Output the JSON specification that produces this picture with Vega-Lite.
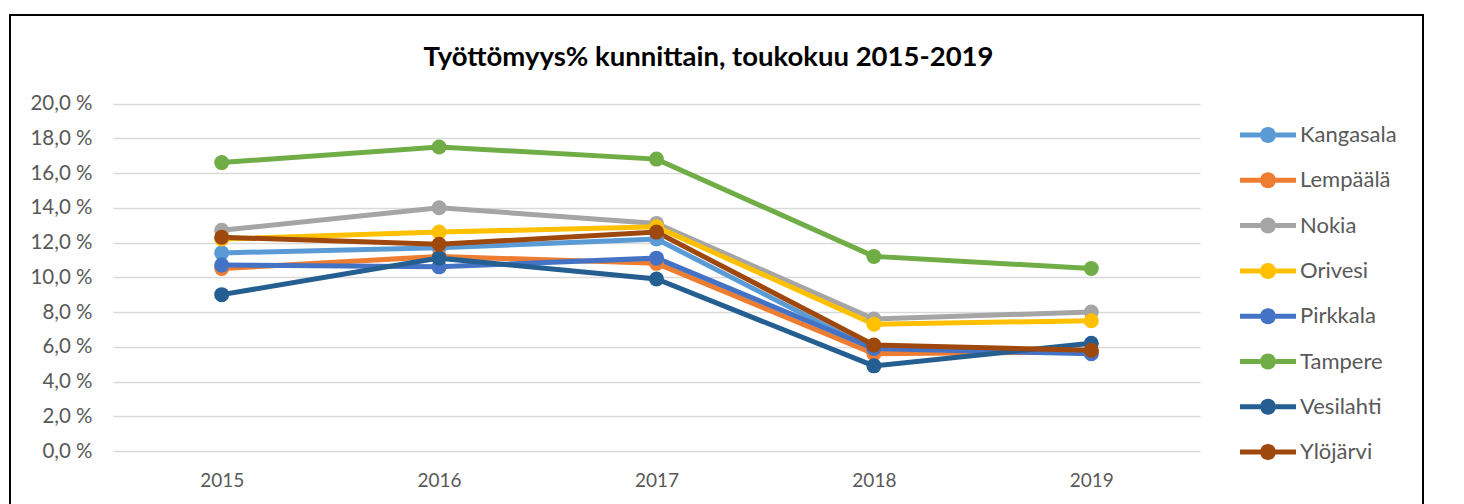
{
  "$schema": "https://vega.github.io/schema/vega-lite/v6.json",
  "width": 1413,
  "height": 489,
  "autosize": {"type": "none"},
  "padding": {"left": 10, "top": 15, "right": 41, "bottom": 0},
  "background": "white",
  "title": {
    "text": "Työttömyys% kunnittain, toukokuu 2015-2019",
    "font": "Lato",
    "fontSize": 27.5,
    "fontWeight": "bold",
    "color": "#000000",
    "anchor": "middle",
    "frame": "group",
    "dx": -8,
    "offset": -56
  },
  "data": {
    "values": [
      {"kunta": "Kangasala", "year": "2015", "value": 11.4},
      {"kunta": "Kangasala", "year": "2016", "value": 11.7},
      {"kunta": "Kangasala", "year": "2017", "value": 12.2},
      {"kunta": "Kangasala", "year": "2018", "value": 5.8},
      {"kunta": "Kangasala", "year": "2019", "value": 5.7},
      {"kunta": "Lempäälä", "year": "2015", "value": 10.5},
      {"kunta": "Lempäälä", "year": "2016", "value": 11.2},
      {"kunta": "Lempäälä", "year": "2017", "value": 10.8},
      {"kunta": "Lempäälä", "year": "2018", "value": 5.6},
      {"kunta": "Lempäälä", "year": "2019", "value": 5.7},
      {"kunta": "Nokia", "year": "2015", "value": 12.7},
      {"kunta": "Nokia", "year": "2016", "value": 14.0},
      {"kunta": "Nokia", "year": "2017", "value": 13.1},
      {"kunta": "Nokia", "year": "2018", "value": 7.6},
      {"kunta": "Nokia", "year": "2019", "value": 8.0},
      {"kunta": "Orivesi", "year": "2015", "value": 12.2},
      {"kunta": "Orivesi", "year": "2016", "value": 12.6},
      {"kunta": "Orivesi", "year": "2017", "value": 12.9},
      {"kunta": "Orivesi", "year": "2018", "value": 7.3},
      {"kunta": "Orivesi", "year": "2019", "value": 7.5},
      {"kunta": "Pirkkala", "year": "2015", "value": 10.7},
      {"kunta": "Pirkkala", "year": "2016", "value": 10.6},
      {"kunta": "Pirkkala", "year": "2017", "value": 11.1},
      {"kunta": "Pirkkala", "year": "2018", "value": 5.9},
      {"kunta": "Pirkkala", "year": "2019", "value": 5.6},
      {"kunta": "Tampere", "year": "2015", "value": 16.6},
      {"kunta": "Tampere", "year": "2016", "value": 17.5},
      {"kunta": "Tampere", "year": "2017", "value": 16.8},
      {"kunta": "Tampere", "year": "2018", "value": 11.2},
      {"kunta": "Tampere", "year": "2019", "value": 10.5},
      {"kunta": "Vesilahti", "year": "2015", "value": 9.0},
      {"kunta": "Vesilahti", "year": "2016", "value": 11.1},
      {"kunta": "Vesilahti", "year": "2017", "value": 9.9},
      {"kunta": "Vesilahti", "year": "2018", "value": 4.9},
      {"kunta": "Vesilahti", "year": "2019", "value": 6.2},
      {"kunta": "Ylöjärvi", "year": "2015", "value": 12.3},
      {"kunta": "Ylöjärvi", "year": "2016", "value": 11.9},
      {"kunta": "Ylöjärvi", "year": "2017", "value": 12.6},
      {"kunta": "Ylöjärvi", "year": "2018", "value": 6.1},
      {"kunta": "Ylöjärvi", "year": "2019", "value": 5.8}
    ]
  },
  "mark": {
    "type": "line",
    "strokeWidth": 5,
    "point": {"filled": true, "size": 225, "opacity": 1}
  },
  "encoding": {
    "x": {
      "field": "year",
      "type": "ordinal",
      "scale": {"type": "point", "padding": 0.5, "range": [103, 1190]},
      "axis": {
        "title": null,
        "labelAngle": 0,
        "ticks": false,
        "domain": false,
        "grid": false,
        "offset": -53,
        "labelFont": "Lato",
        "labelFontSize": 19,
        "labelColor": "#595959",
        "labelPadding": 20
      }
    },
    "y": {
      "field": "value",
      "type": "quantitative",
      "scale": {"domain": [0, 20], "nice": false, "range": [436, 88.5]},
      "axis": {
        "title": null,
        "values": [0, 2, 4, 6, 8, 10, 12, 14, 16, 18, 20],
        "labelExpr": "replace(format(datum.value, '.1f'), '.', ',') + ' %'",
        "ticks": false,
        "domain": false,
        "grid": true,
        "offset": -103,
        "gridColor": "#d9d9d9",
        "gridWidth": 1.5,
        "labelFont": "Lato",
        "labelFontSize": 20.5,
        "labelColor": "#595959",
        "labelPadding": 21
      }
    },
    "color": {
      "field": "kunta",
      "type": "nominal",
      "scale": {
        "domain": ["Kangasala", "Lempäälä", "Nokia", "Orivesi", "Pirkkala", "Tampere", "Vesilahti", "Ylöjärvi"],
        "range": ["#5B9BD5", "#ED7D31", "#A5A5A5", "#FFC000", "#4472C4", "#70AD47", "#255E91", "#9E480E"]
      },
      "legend": {
        "orient": "none",
        "legendX": 1230,
        "legendY": 110,
        "title": null,
        "symbolType": "M-1,-0.09L-0.28,-0.09L-0.28,0.09L-1,0.09Z M0.28,-0.09L1,-0.09L1,0.09L0.28,0.09Z M0.2857,0A0.2857,0.2857 0 1,1 -0.2857,0A0.2857,0.2857 0 1,1 0.2857,0Z",
        "symbolSize": 3136,
        "symbolStrokeWidth": 0,
        "labelFont": "Lato",
        "labelFontSize": 22,
        "labelColor": "#595959",
        "labelOffset": 4,
        "clipHeight": 20,
        "rowPadding": 23.3,
        "encode": {
          "symbols": {
            "update": {
              "fill": {"scale": "color", "field": "value"},
              "fillOpacity": {"value": 1},
              "opacity": {"value": 1},
              "strokeWidth": {"value": 0}
            }
          }
        }
      }
    }
  },
  "config": {
    "view": {
      "stroke": "#000000",
      "strokeWidth": 2,
      "strokeDash": [1902, 1413, 489]
    }
  }
}
